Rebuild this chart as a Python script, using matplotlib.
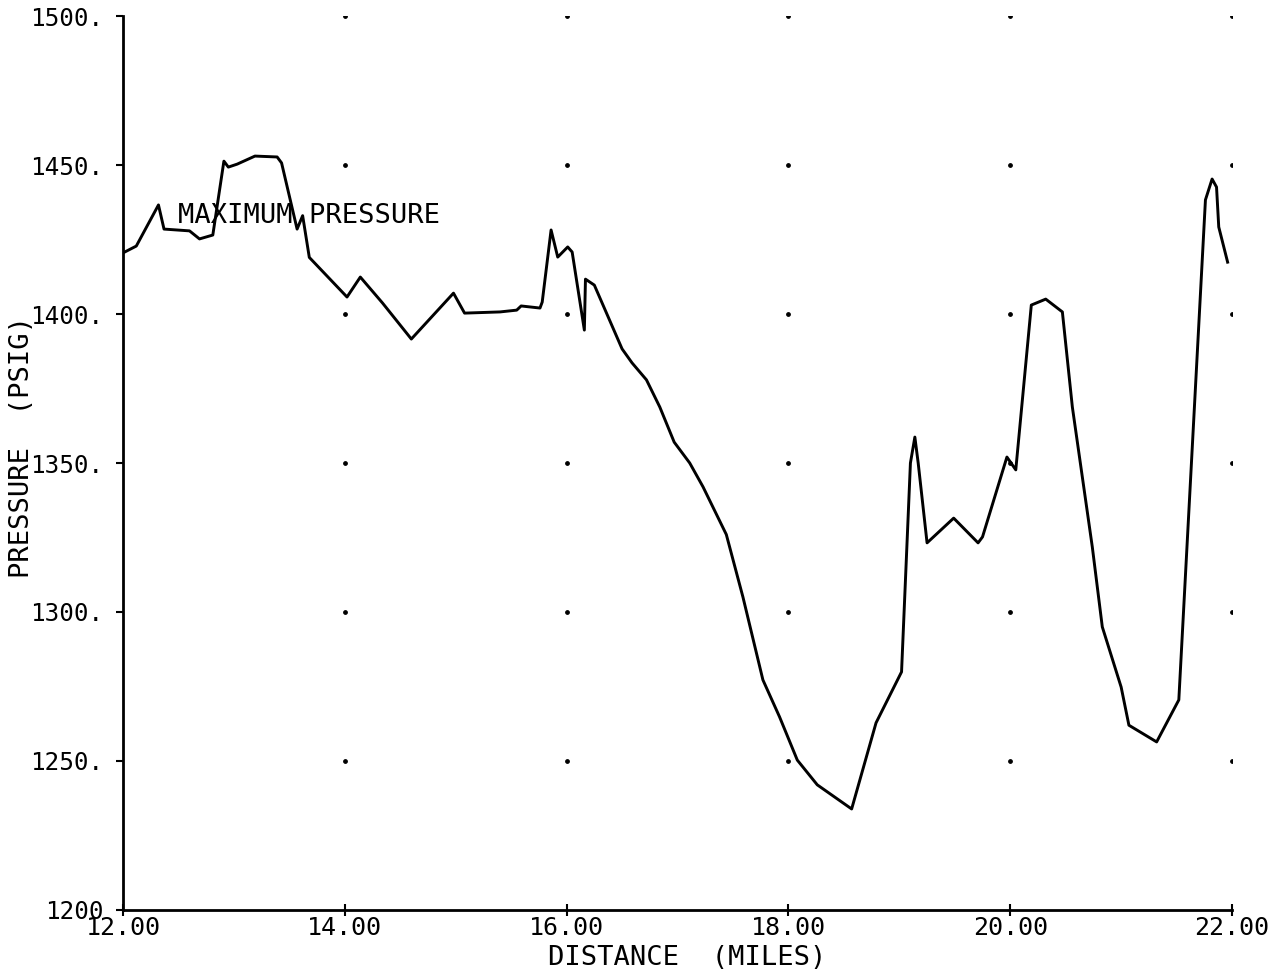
import numpy as np
import matplotlib
matplotlib.use('Agg')
import matplotlib.pyplot as plt

# Pressure profile
distance = [12.00, 12.12, 12.32, 12.37, 12.60, 12.69, 12.81, 12.91, 12.95, 13.03,
            13.19, 13.39, 13.43, 13.57, 13.62, 13.68, 14.02, 14.14, 14.34, 14.60,
            14.98, 15.08, 15.40, 15.55, 15.59, 15.76, 15.78, 15.86, 15.92, 16.01,
            16.05, 16.16, 16.17, 16.25, 16.50, 16.59, 16.72, 16.84, 16.97, 17.11,
            17.23, 17.44, 17.59, 17.77, 17.92, 18.08, 18.26, 18.57, 18.79, 19.02,
            19.10, 19.14, 19.17, 19.25, 19.49, 19.71, 19.75, 19.97, 20.05, 20.19,
            20.32, 20.47, 20.56, 20.74, 20.83, 21.00, 21.07, 21.32, 21.52, 21.76,
            21.82, 21.86, 21.88, 21.96]
pressure = [1420.5, 1422.8, 1436.6, 1428.5, 1427.9, 1425.2, 1426.5, 1451.3, 1449.3, 1450.3,
            1453.0, 1452.7, 1450.7, 1428.5, 1433.0, 1419.0, 1405.7, 1412.4, 1403.7, 1391.6,
            1407.0, 1400.3, 1400.7, 1401.3, 1402.7, 1402.0, 1404.0, 1428.2, 1419.1, 1422.5,
            1420.8, 1394.6, 1411.7, 1409.7, 1388.3, 1383.6, 1377.9, 1368.8, 1357.0, 1350.0,
            1342.0, 1326.0, 1305.0, 1277.2, 1264.8, 1250.3, 1242.0, 1233.9, 1262.8, 1279.9,
            1350.0, 1358.7, 1350.0, 1323.2, 1331.5, 1323.2, 1325.2, 1352.0, 1347.7, 1403.0,
            1405.0, 1400.7, 1368.8, 1321.8, 1295.0, 1274.8, 1262.0, 1256.4, 1270.5, 1438.3,
            1445.3, 1442.6, 1429.2, 1417.4]

x_ticks = [12, 14, 16, 18, 20, 22]
x_labels = ['12.00', '14.00', '16.00', '18.00', '20.00', '22.00']
y_ticks = [1200, 1250, 1300, 1350, 1400, 1450, 1500]
y_labels = ['1200', '1250.', '1300.', '1350.', '1400.', '1450.', '1500.']

font = 'DejaVu Sans Mono'

fig = plt.figure(figsize=(12.85, 9.77), dpi=100)
ax = fig.add_axes([0.0957, 0.0686, 0.8631, 0.915])

ax.plot(distance, pressure, color='black', lw=2.1)

# grid dots at tick intersections
gx, gy = np.meshgrid(x_ticks[1:], y_ticks[1:])
ax.scatter(gx.ravel(), gy.ravel(), s=6, color='black', zorder=3)

ax.text(12.50, 1433, 'MAXIMUM PRESSURE', fontsize=19.5, family=font,
        va='center', ha='left')

ax.set_xlim(12, 22)
ax.set_ylim(1200, 1500)
ax.set_xticks(x_ticks)
ax.set_xticklabels(x_labels, family=font, fontsize=18)
ax.set_yticks(y_ticks)
ax.set_yticklabels(y_labels, family=font, fontsize=17.5)
ax.tick_params(axis='y', direction='out', length=5, width=1.5, pad=9)
ax.tick_params(axis='x', direction='inout', length=8, width=1.5, pad=0)

ax.spines['top'].set_visible(False)
ax.spines['right'].set_visible(False)
ax.spines['left'].set_linewidth(2)
ax.spines['bottom'].set_linewidth(2)

# axis titles placed where the plotter put them
fig.text(687 / 1285, 1 - 958 / 977, 'DISTANCE  (MILES)', family=font,
         fontsize=19.5, ha='center', va='center')
fig.text(22 / 1285, 1 - 447 / 977, 'PRESSURE  (PSIG)', family=font,
         fontsize=19.5, ha='center', va='center', rotation=90)

fig.savefig('out.png', dpi=100)
